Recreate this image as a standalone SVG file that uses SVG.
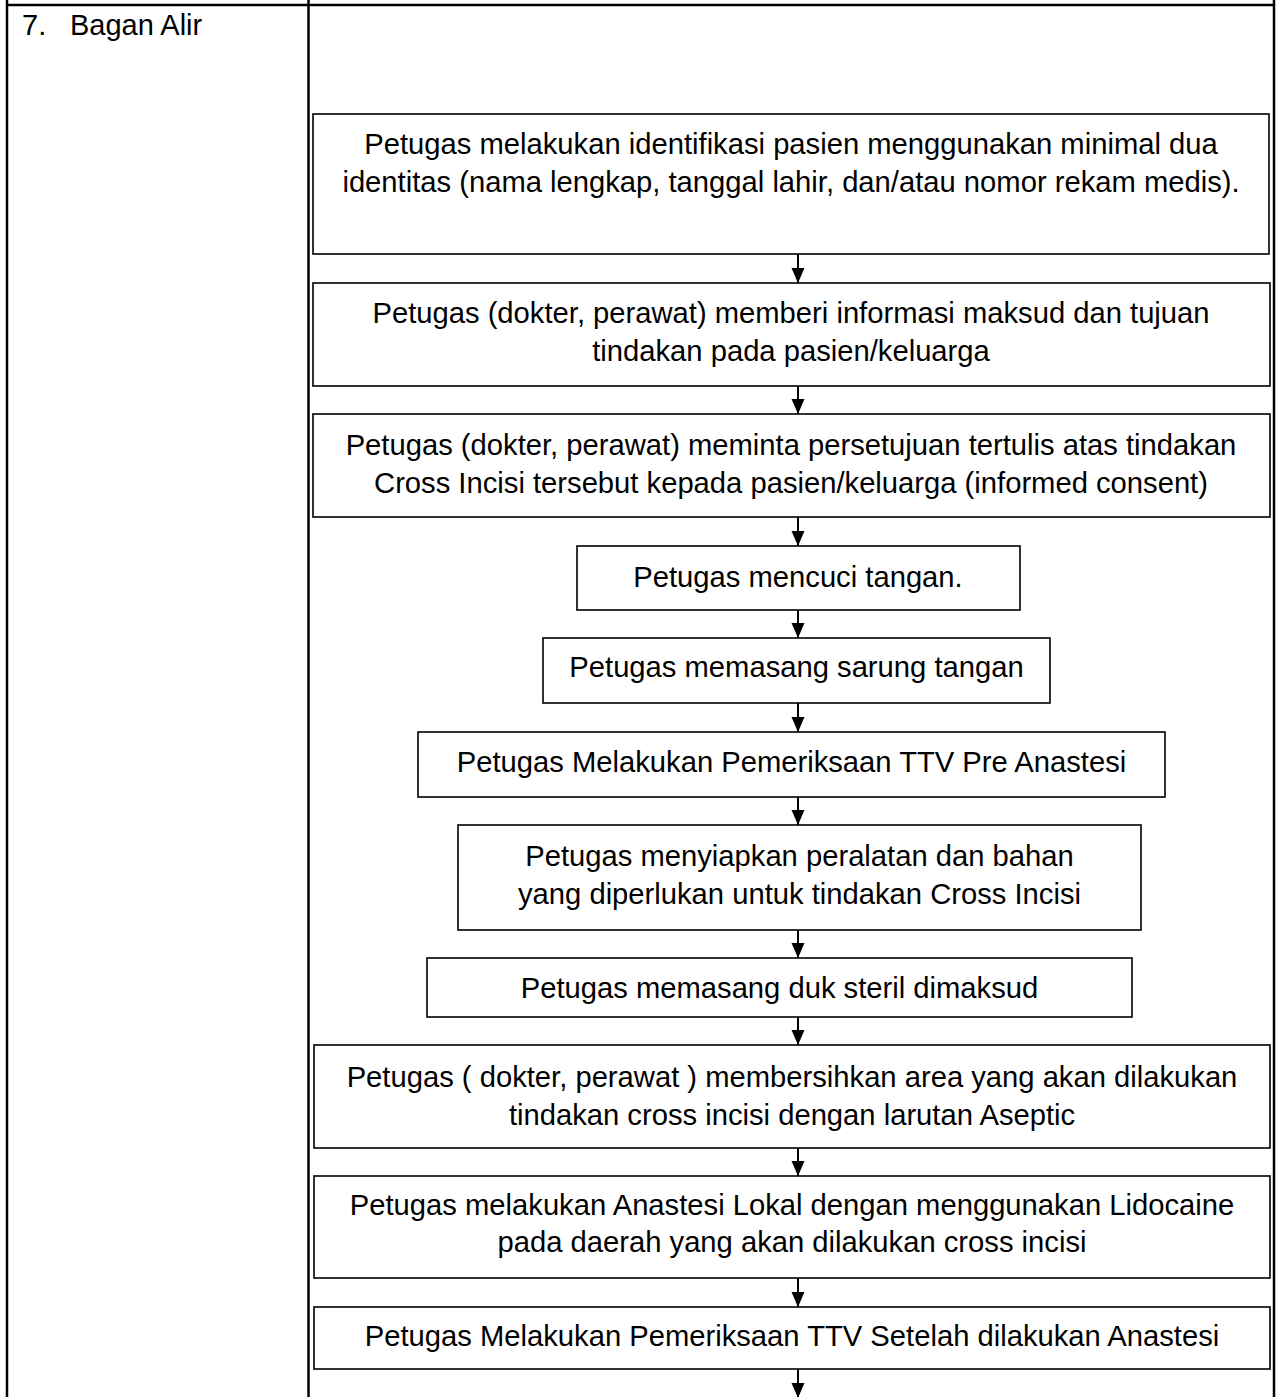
<svg xmlns="http://www.w3.org/2000/svg" width="1281" height="1397" viewBox="0 0 1281 1397">
<style>
.tbl{stroke:#000;stroke-width:2.5;fill:none}
.box{fill:#fff;stroke:#000;stroke-width:1.6}
.t{font-family:"Liberation Sans",Arial,sans-serif;font-size:29.2px;fill:#000;text-anchor:middle}
.lbl{font-family:"Liberation Sans",Arial,sans-serif;font-size:29px;fill:#000}
.con{stroke:#000;stroke-width:2;fill:none;marker-end:url(#ah)}
</style>
<defs>
<marker id="ah" markerUnits="userSpaceOnUse" markerWidth="16" markerHeight="14" refX="15" refY="6.5" orient="auto">
<path d="M0,0 L15,6.5 L0,13 z" fill="#000"/>
</marker>
</defs>
<rect width="1281" height="1397" fill="#fff"/>
<g id="table">
<line class="tbl" x1="7" y1="5" x2="1274" y2="5"/>
<line class="tbl" x1="7" y1="0" x2="7" y2="1397"/>
<line class="tbl" x1="308.5" y1="0" x2="308.5" y2="1397"/>
<line class="tbl" x1="1274" y1="0" x2="1274" y2="1397"/>
<text class="lbl" x="22" y="35">7.</text>
<text class="lbl" x="70" y="35">Bagan Alir</text>
</g>
<g id="connectors">
<line class="con" x1="798" y1="254" x2="798" y2="283"/>
<line class="con" x1="798" y1="386" x2="798" y2="414"/>
<line class="con" x1="798" y1="517" x2="798" y2="546"/>
<line class="con" x1="798" y1="610" x2="798" y2="638"/>
<line class="con" x1="798" y1="703" x2="798" y2="732"/>
<line class="con" x1="798" y1="797" x2="798" y2="825"/>
<line class="con" x1="798" y1="930" x2="798" y2="958"/>
<line class="con" x1="798" y1="1017" x2="798" y2="1045"/>
<line class="con" x1="798" y1="1148" x2="798" y2="1176"/>
<line class="con" x1="798" y1="1278" x2="798" y2="1307"/>
<line class="con" x1="798" y1="1369" x2="798" y2="1398"/>
</g>
<g id="n1">
<rect class="box" x="313" y="114" width="956" height="140"/>
<text class="t" x="791" y="154">Petugas melakukan identifikasi pasien menggunakan minimal dua</text>
<text class="t" x="791" y="192">identitas (nama lengkap, tanggal lahir, dan/atau nomor rekam medis).</text>
</g>
<g id="n2">
<rect class="box" x="313" y="283" width="957" height="103"/>
<text class="t" x="791" y="323">Petugas (dokter, perawat) memberi informasi maksud dan tujuan</text>
<text class="t" x="791" y="361">tindakan pada pasien/keluarga</text>
</g>
<g id="n3">
<rect class="box" x="313" y="414" width="957" height="103"/>
<text class="t" x="791" y="455">Petugas (dokter, perawat) meminta persetujuan tertulis atas tindakan</text>
<text class="t" x="791" y="493">Cross Incisi tersebut kepada pasien/keluarga (informed consent)</text>
</g>
<g id="n4">
<rect class="box" x="577" y="546" width="443" height="64"/>
<text class="t" x="798" y="587">Petugas mencuci tangan.</text>
</g>
<g id="n5">
<rect class="box" x="543" y="638" width="507" height="65"/>
<text class="t" x="796.5" y="677">Petugas memasang sarung tangan</text>
</g>
<g id="n6">
<rect class="box" x="418" y="732" width="747" height="65"/>
<text class="t" x="791.5" y="772">Petugas Melakukan Pemeriksaan TTV Pre Anastesi</text>
</g>
<g id="n7">
<rect class="box" x="458" y="825" width="683" height="105"/>
<text class="t" x="799.5" y="866">Petugas menyiapkan peralatan dan bahan</text>
<text class="t" x="799.5" y="904">yang diperlukan untuk tindakan Cross Incisi</text>
</g>
<g id="n8">
<rect class="box" x="427" y="958" width="705" height="59"/>
<text class="t" x="779.5" y="998">Petugas memasang duk steril dimaksud</text>
</g>
<g id="n9">
<rect class="box" x="314" y="1045" width="956" height="103"/>
<text class="t" x="792" y="1087">Petugas ( dokter, perawat ) membersihkan area yang akan dilakukan</text>
<text class="t" x="792" y="1125">tindakan cross incisi dengan larutan Aseptic</text>
</g>
<g id="n10">
<rect class="box" x="314" y="1176" width="956" height="102"/>
<text class="t" x="792" y="1215">Petugas melakukan Anastesi Lokal dengan menggunakan Lidocaine</text>
<text class="t" x="792" y="1252">pada daerah yang akan dilakukan cross incisi</text>
</g>
<g id="n11">
<rect class="box" x="314" y="1307" width="956" height="62"/>
<text class="t" x="792" y="1346">Petugas Melakukan Pemeriksaan TTV Setelah dilakukan Anastesi</text>
</g>
</svg>
